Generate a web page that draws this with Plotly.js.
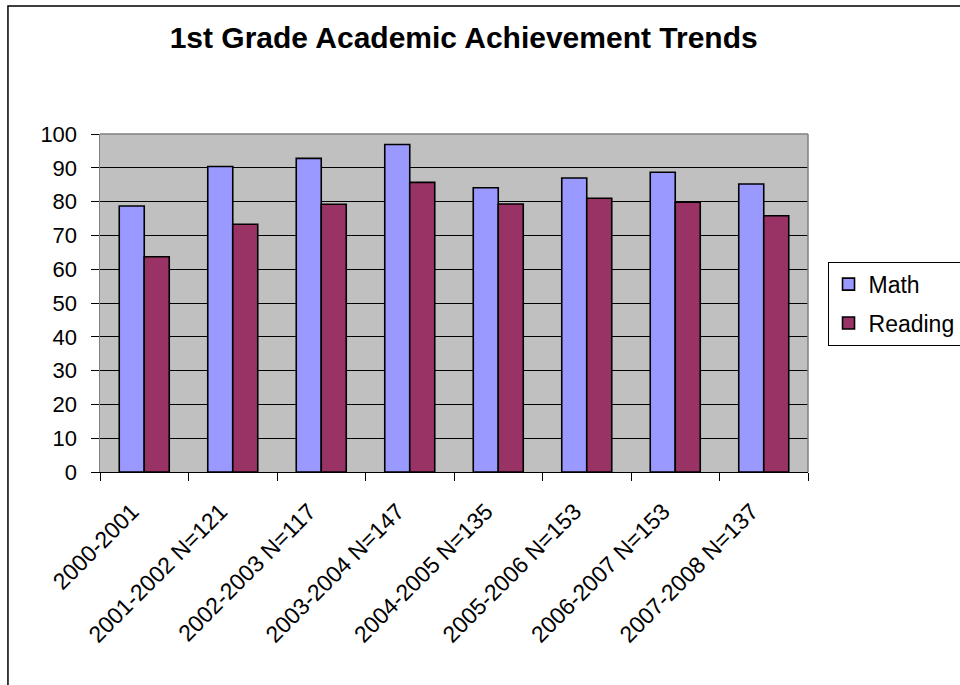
<!DOCTYPE html>
<html>
<head>
<meta charset="utf-8">
<script src="https://cdn.plot.ly/plotly-3.0.1.min.js"></script>
<style>html,body{margin:0;padding:0;background:#fff;}#chart{width:960px;height:685px;}</style>
</head>
<body>
<div id="chart"></div>
<script>
const categories = ["2000-2001", "2001-2002 N=121", "2002-2003 N=117", "2003-2004 N=147", "2004-2005 N=135", "2005-2006 N=153", "2006-2007 N=153", "2007-2008 N=137"];
const mathValues = [78.7, 90.4, 92.8, 96.9, 84.1, 87.0, 88.7, 85.2];
const readingValues = [63.7, 73.3, 79.2, 85.7, 79.3, 81.0, 79.8, 75.8];
const yTicks = [0, 10, 20, 30, 40, 50, 60, 70, 80, 90, 100];

const font = "Arial, 'Liberation Sans', sans-serif";
const traces = [
  {type: "bar", name: "Math", x: categories, y: mathValues, legendgroup: "a",
   marker: {color: "#9999FF", line: {color: "#000", width: 1.6}}},
  {type: "bar", name: "Reading", x: categories, y: readingValues, legendgroup: "b",
   marker: {color: "#993366", line: {color: "#000", width: 1.6}}}
];
const layout = {
  width: 960, height: 685,
  margin: {l: 100, r: 152, t: 134, b: 213, autoexpand: false},
  paper_bgcolor: "#fff", plot_bgcolor: "#C0C0C0",
  font: {family: font, size: 22, color: "#000"},
  title: {text: "<b>1st Grade Academic Achievement Trends</b>", font: {family: font, size: 30, color: "#000"},
          x: 0.483, xanchor: "center", y: 0.945, yanchor: "middle"},
  barmode: "group", bargap: 0.435, bargroupgap: 0,
  xaxis: {type: "category", tickangle: -45, ticks: "outside", tickson: "boundaries", ticklen: 8,
          tickcolor: "#000", showline: true, linecolor: "#000", linewidth: 1, mirror: false,
          showgrid: false, tickfont: {size: 23, family: font}, automargin: false,
          ticklabelstandoff: 16, ticklabelshift: -12},
  yaxis: {range: [0, 100], tickvals: yTicks, ticks: "outside", ticklen: 8, tickcolor: "#000",
          showline: true, linecolor: "#808080", linewidth: 1.5, gridcolor: "#000", gridwidth: 1,
          zeroline: false, tickfont: {size: 22, family: font}, automargin: false, ticklabelstandoff: 9},
  showlegend: true,
  legend: {xref: "container", yref: "container", x: 0.862, xanchor: "left", y: 0.618, yanchor: "top",
           bordercolor: "#000", borderwidth: 1,
           bgcolor: "#fff", font: {size: 23, family: font}, traceorder: "grouped", tracegroupgap: 6,
           itemwidth: 30},
  shapes: [
    {type: "line", xref: "paper", yref: "paper", x0: 0, x1: 1, y0: 1, y1: 1, line: {color: "#808080", width: 1.5}},
    {type: "line", xref: "paper", yref: "paper", x0: 1, x1: 1, y0: 0, y1: 1, line: {color: "#808080", width: 1.5}},
    {type: "rect", xref: "paper", yref: "paper", x0: -0.13, x1: 1.23, y0: -0.66, y1: 1.3787,
     line: {color: "#000", width: 1.5}, layer: "below"}
  ]
};
Plotly.newPlot("chart", traces, layout, {displayModeBar: false, staticPlot: true});
</script>
</body>
</html>
